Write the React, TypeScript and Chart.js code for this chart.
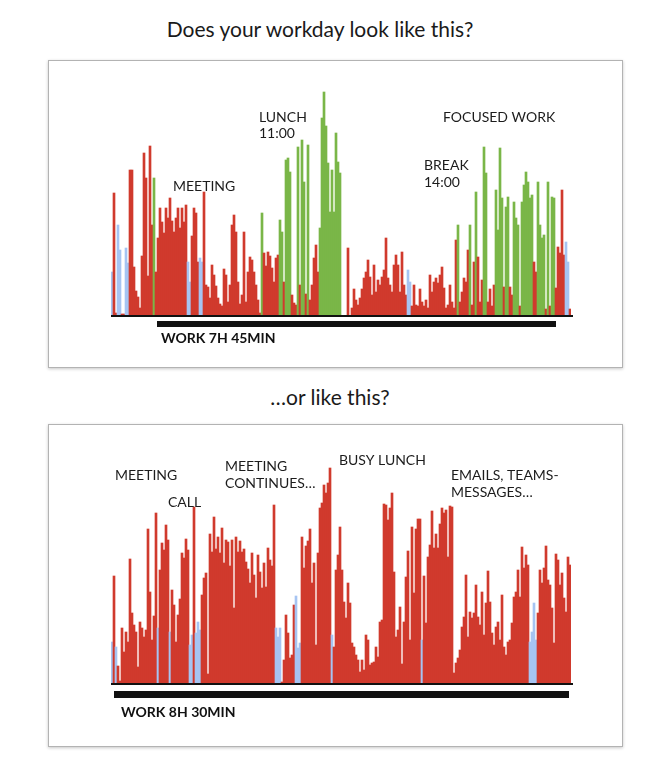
import React, { useEffect, useRef } from "react";
import { Chart, registerables } from "chart.js";

Chart.register(...registerables);

const COLORS: Record<string, string> = { r: "#d03a2d", g: "#7ab648", b: "#a6c4f2" };

// ---------- Panel 1: "Does your workday look like this?" ----------
const p1Heights = [
  44, 123, 3, 91, 66, 2, 2, 68, 53, 146, 146, 49, 25, 19, 8, 60, 163, 138, 40, 170, 91, 138, 44, 78, 108, 94, 83, 108, 98, 118, 95, 84, 98, 108, 88, 108, 94, 111, 54, 34, 80, 108, 103, 54, 58, 54, 124, 31, 29, 18, 51, 41, 30, 18, 12, 10, 47,
  41, 14, 31, 91, 101, 84, 34, 12, 21, 84, 14, 44, 59, 56, 44, 31, 16, 3, 103, 63, 50, 64, 60, 48, 34, 58, 61, 96, 84, 34, 156, 158, 144, 21, 13, 11, 169, 31, 176, 134, 22, 171, 16, 31, 58, 71, 44, 88, 198, 224, 190, 153, 104, 146, 104, 183, 154, 143,
  0, 0, 0, 68, 0, 8, 27, 16, 11, 18, 27, 38, 44, 56, 39, 21, 51, 24, 36, 31, 39, 46, 78, 38, 31, 24, 51, 61, 51, 24, 64, 31, 21, 46, 34, 10, 31, 11, 10, 27, 14, 10, 16, 8, 41, 24, 34, 38, 33, 41, 49, 28, 8, 11, 31, 14, 8, 76,
  91, 14, 24, 38, 34, 66, 91, 11, 54, 124, 59, 14, 36, 169, 143, 14, 27, 10, 31, 126, 86, 168, 118, 29, 109, 119, 29, 21, 114, 98, 91, 10, 114, 131, 144, 134, 118, 121, 54, 44, 134, 91, 78, 81, 7, 134, 10, 119, 118, 28, 69, 63, 126, 61, 74, 54, 7,
];
// r = red (busy), g = green (focused / break), b = blue (idle)
const p1Kinds = (
  "brrbbrrbbrrrrrrrrrrrrg" + "rrrrrrrrrrrrrrrr" + "bb" + "rrrr" + "bb" + "rrrrrrrrrrr" +
  "rrrrrrrrrrrrrrrrrr" + "g" + "rrrrrrrr" + "gg" + "r" + "ggg" + "rrr" + "g" + "r" + "gg" + "r" + "g" + "rrrrr" + "ggggggggggg" +
  "rrrrrrrrrrrrrrrrrrrrrrrrrrrrrrrrr" + "bb" + "rrrrrrrrrrrrrrrrrrrrrrr" +
  "g" + "rrrrr" + "g" + "rr" + "g" + "rrr" + "gg" + "rrrr" + "gggg" + "r" + "gg" + "rr" + "ggg" + "r" + "gggggg" + "rr" + "gggg" + "r" + "g" + "r" + "gg" + "rrrrr" + "bb" + "r"
).split("");
const p1Notes = [
  { text: "MEETING", at: 31, value: 125 },
  { text: "LUNCH", at: 74, value: 194 },
  { text: "11:00", at: 74, value: 178 },
  { text: "FOCUSED WORK", at: 166, value: 194 },
  { text: "BREAK", at: 156.5, value: 146 },
  { text: "14:00", at: 156.5, value: 129 },
];
const p1Work = { label: "WORK 7H 45MIN", from: 23, to: 222.5, labelAt: 25, labelValue: -27 };

// ---------- Panel 2: "…or like this?" ----------
const p2Heights = [
  42, 108, 37, 18, 3, 56, 32, 52, 42, 125, 71, 59, 52, 17, 62, 56, 47, 54, 155, 92, 44, 68, 171, 56, 114, 141, 134, 159, 144, 52, 94, 79, 42, 69, 85, 131, 126, 145, 134, 39, 49, 177, 51, 62, 54, 89, 106, 111, 10, 150, 132, 167, 135, 147, 131, 156, 121,
  144, 142, 118, 144, 76, 147, 132, 143, 132, 135, 122, 115, 101, 131, 109, 86, 129, 112, 96, 121, 97, 136, 124, 118, 179, 56, 47, 56, 2, 24, 69, 51, 26, 29, 79, 88, 36, 41, 147, 116, 138, 143, 155, 101, 121, 39, 131, 176, 181, 199, 191, 201, 216, 49, 37, 114, 129, 157,
  114, 82, 66, 101, 81, 41, 37, 29, 24, 12, 24, 14, 49, 44, 19, 21, 22, 37, 27, 62, 64, 180, 179, 164, 176, 191, 112, 47, 54, 77, 20, 62, 107, 133, 44, 157, 91, 155, 165, 165, 44, 108, 61, 127, 139, 173, 136, 150, 136, 160, 176, 171, 174, 127, 178, 177, 11, 21, 26,
  34, 57, 67, 109, 47, 72, 66, 71, 99, 67, 59, 92, 49, 81, 113, 82, 51, 39, 57, 62, 44, 89, 37, 29, 42, 44, 61, 87, 92, 114, 87, 137, 116, 129, 119, 42, 52, 81, 44, 71, 114, 101, 116, 138, 104, 99, 76, 41, 130, 124, 99, 111, 86, 72, 127, 119,
];
const p2Kinds = (
  "brb" + "rrrrrrrrrrrrrrrrrrrr" + "b" + "rrrrr" + "b" + "rrrrrrrrr" + "bb" + "r" + "bbb" + "rrrrrrrrrrrr" +
  "rrrrrrrrrrrrrrrrrrrrrrrrr" + "bbb" + "rrrrrrr" + "bbb" + "rrrrrrrrrrrrrrr" + "b" + "rrrr" +
  "rrrrrrrrrrrrrrrrrrrrrrrrrrrrrrrrrrrrrrrr" + "b" + "rrrrrrrrrrrrrrrrrr" +
  "rrrrrrrrrrrrrrrrrrrrrrrrrrrrrrrrrrr" + "bbbb" + "rrrrrrrrrrrrrrrrr"
).split("");
const p2Notes = [
  { text: "MEETING", at: 2, value: 204 },
  { text: "CALL", at: 28.5, value: 177 },
  { text: "MEETING", at: 57, value: 213 },
  { text: "CONTINUES…", at: 57, value: 196 },
  { text: "BUSY LUNCH", at: 114, value: 219 },
  { text: "EMAILS, TEAMS-", at: 170, value: 204 },
  { text: "MESSAGES…", at: 170, value: 187 },
];
const p2Work = { label: "WORK 8H 30MIN", from: 1.5, to: 229, labelAt: 5, labelValue: -33 };

const Y_MAX = 230;

type Note = { text: string; at: number; value: number };
type Work = { label: string; from: number; to: number; labelAt: number; labelValue: number };

function makeOverlay(notes: Note[], work: Work, gap: number, thick: number) {
  return {
    id: "overlay",
    afterDatasetsDraw(chart: any) {
      const { ctx, chartArea, scales } = chart;
      const x = scales.x;
      const y = scales.y;
      const edge = (i: number) => x.getPixelForValue(i - 0.5);
      const base = y.getPixelForValue(0);
      ctx.save();
      ctx.fillStyle = "#111";
      ctx.fillRect(chartArea.left, base - 1, chartArea.right - chartArea.left + 2, 2);
      const wx0 = edge(work.from);
      const wx1 = edge(work.to);
      ctx.fillRect(wx0, base + gap, wx1 - wx0, thick);
      ctx.textBaseline = "alphabetic";
      ctx.textAlign = "left";
      ctx.font = "bold 14px Lato";
      ctx.fillText(work.label, edge(work.labelAt), y.getPixelForValue(work.labelValue));
      ctx.font = "14px Lato";
      ctx.fillStyle = "#1c1c1c";
      notes.forEach((n) => {
        ctx.fillText(n.text, edge(n.at), y.getPixelForValue(n.value));
      });
      ctx.restore();
    },
  };
}

function Panel(props: {
  heights: number[];
  kinds: string[];
  notes: Note[];
  work: Work;
  left: number;
  top: number;
  width: number;
  height: number;
  padding: { left: number; right: number; top: number; bottom: number };
  gap: number;
  thick: number;
}) {
  const ref = useRef<HTMLCanvasElement | null>(null);
  useEffect(() => {
    if (!ref.current) return;
    const chart = new Chart(ref.current, {
      type: "bar",
      data: {
        labels: props.heights.map((_, i) => String(i)),
        datasets: [
          {
            data: props.heights,
            backgroundColor: props.kinds.map((k) => COLORS[k]),
            barPercentage: 1,
            categoryPercentage: 1,
            borderWidth: 0,
          },
        ],
      },
      options: {
        responsive: false,
        animation: false,
        devicePixelRatio: 1,
        events: [],
        layout: { padding: props.padding },
        plugins: { legend: { display: false }, tooltip: { enabled: false } },
        scales: {
          x: { display: false },
          y: { display: false, min: 0, max: Y_MAX },
        },
      },
      plugins: [makeOverlay(props.notes, props.work, props.gap, props.thick)],
    } as any);
    return () => chart.destroy();
  }, []);
  return (
    <>
      <div
        style={{
          position: "absolute",
          left: props.left,
          top: props.top,
          width: props.width,
          height: props.height,
          boxSizing: "border-box",
          border: "1px solid #b3b3b3",
          boxShadow: "0 1px 3px rgba(0,0,0,0.22)",
          background: "#fff",
        }}
      />
      <canvas
        ref={ref}
        width={props.width}
        height={props.height}
        style={{ position: "absolute", left: props.left, top: props.top, width: props.width, height: props.height }}
      />
    </>
  );
}

export default function App() {
  const titleStyle: React.CSSProperties = {
    position: "absolute",
    width: 400,
    textAlign: "center",
    fontFamily: "Lato",
    fontSize: 21,
    lineHeight: "21px",
    color: "#1a1a1a",
    whiteSpace: "nowrap",
  };
  return (
    <div style={{ position: "relative", width: 654, height: 755, fontFamily: "Lato" }}>
      <div style={{ ...titleStyle, left: 112, top: 10 }}>Does your workday look like this?</div>
      <Panel
        heights={p1Heights}
        kinds={p1Kinds}
        notes={p1Notes}
        work={p1Work}
        left={40}
        top={52}
        width={575}
        height={308}
        padding={{ left: 63, right: 52, top: 26, bottom: 52 }}
        gap={5}
        thick={6}
      />
      <div style={{ ...titleStyle, left: 122, top: 378 }}>…or like this?</div>
      <Panel
        heights={p2Heights}
        kinds={p2Kinds}
        notes={p2Notes}
        work={p2Work}
        left={40}
        top={416}
        width={575}
        height={323}
        padding={{ left: 63, right: 52, top: 30, bottom: 63 }}
        gap={7}
        thick={7}
      />
    </div>
  );
}
